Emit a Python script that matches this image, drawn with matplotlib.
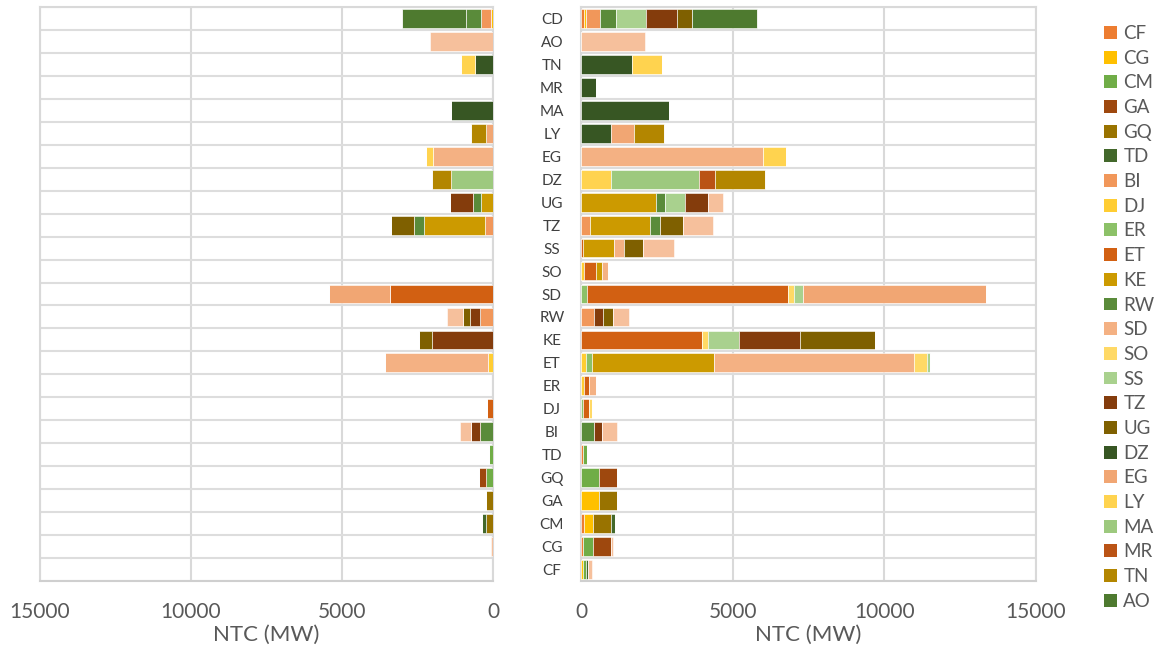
import numpy as np
import pandas as pd
import matplotlib
matplotlib.use("Agg")
import matplotlib.pyplot as plt
from matplotlib.patches import Patch

plt.rcParams['font.family'] = ['Lato', 'DejaVu Sans']

# countries, top to bottom
rows = ["CD", "AO", "TN", "MR", "MA", "LY", "EG", "DZ", "UG", "TZ", "SS", "SO", "SD",
        "RW", "KE", "ET", "ER", "DJ", "BI", "TD", "GQ", "GA", "CM", "CG", "CF"]

# partner series in stacking order (CD is drawn but left out of the legend)
partners = ["CF", "CG", "CM", "GA", "GQ", "TD", "BI", "DJ", "ER", "ET", "KE", "RW",
            "SD", "SO", "SS", "TZ", "UG", "DZ", "EG", "LY", "MA", "MR", "TN", "AO", "CD"]
colors = ["#ED7D31", "#FFC000", "#70AD47", "#9E480E", "#997300", "#43682B",
          "#F1975A", "#FFCD33", "#8CC168", "#D26012", "#CC9A00", "#5A8B3A",
          "#F4B183", "#FFD966", "#A9D18E", "#843C0C", "#7F6000", "#375623",
          "#F1A673", "#FFD34F", "#9DC97E", "#BA5315", "#B38600", "#4E7A2F",
          "#F6C09C"]
legend_count = 24

# NTC (MW) per partner, right-hand panel
out_CD = [("CF", 90), ("CG", 65), ("BI", 470), ("RW", 530), ("SS", 990), ("TZ", 1030), ("UG", 490), ("AO", 2135)]
out_AO = [("CD", 2095)]
out_TN = [("DZ", 1680), ("LY", 995)]
out_MR = [("DZ", 495)]
out_MA = [("DZ", 2905)]
out_LY = [("DZ", 985), ("EG", 760), ("TN", 995)]
out_EG = [("SD", 6000), ("LY", 745)]
out_DZ = [("LY", 985), ("MA", 2895), ("MR", 530), ("TN", 1665)]
out_UG = [("KE", 2467), ("RW", 308), ("SS", 645), ("TZ", 760), ("CD", 500)]
out_TZ = [("BI", 297), ("KE", 1975), ("RW", 320), ("UG", 765), ("CD", 1000)]
out_SS = [("ET", 65), ("KE", 1020), ("SD", 340), ("UG", 625), ("CD", 1010)]
out_SO = [("DJ", 100), ("ET", 395), ("KE", 195), ("SD", 200)]
out_SD = [("ER", 187), ("ET", 6625), ("SO", 200), ("SS", 315), ("EG", 6020)]
out_RW = [("BI", 430), ("TZ", 305), ("UG", 320), ("CD", 525)]
out_KE = [("ET", 3995), ("SO", 205), ("SS", 1000), ("TZ", 2005), ("UG", 2480)]
out_ET = [("DJ", 165), ("ER", 208), ("KE", 4000), ("SD", 6615), ("SO", 405), ("SS", 100)]
out_ER = [("DJ", 90), ("ET", 183), ("SD", 210)]
out_DJ = [("ER", 75), ("ET", 188), ("SO", 100)]
out_BI = [("RW", 428), ("TZ", 262), ("CD", 495)]
out_TD = [("CF", 75), ("CM", 133)]
out_GQ = [("CM", 603), ("GA", 592)]
out_GA = [("CG", 603), ("GQ", 592)]
out_CM = [("CF", 90), ("CG", 305), ("GQ", 605), ("TD", 120)]
out_CG = [("CF", 66), ("CM", 330), ("GA", 582), ("CD", 78)]
out_CF = [("CG", 66), ("CM", 89), ("TD", 85), ("CD", 122)]

# NTC (MW) per partner, left-hand panel
in_CD = [("CG", 55), ("BI", 340), ("RW", 500), ("AO", 2125)]
in_AO = [("CD", 2095)]
in_TN = [("DZ", 600), ("LY", 475)]
in_MA = [("DZ", 1385)]
in_LY = [("EG", 245), ("TN", 475)]
in_EG = [("SD", 2000), ("LY", 220)]
in_DZ = [("MA", 1385), ("TN", 620)]
in_UG = [("KE", 410), ("RW", 245), ("TZ", 775)]
in_TZ = [("BI", 275), ("KE", 2015), ("RW", 310), ("UG", 765)]
in_SD = [("ET", 3410), ("EG", 2015)]
in_RW = [("BI", 420), ("TZ", 330), ("UG", 245), ("CD", 530)]
in_KE = [("TZ", 2015), ("UG", 420)]
in_ET = [("DJ", 165), ("SD", 3420)]
in_DJ = [("ET", 185)]
in_BI = [("RW", 440), ("TZ", 275), ("CD", 390)]
in_TD = [("CM", 145)]
in_GQ = [("CM", 230), ("GA", 220)]
in_GA = [("GQ", 230)]
in_CM = [("GQ", 220), ("TD", 130)]
in_CG = [("CD", 65)]

out_rows = {"CD": out_CD, "AO": out_AO, "TN": out_TN, "MR": out_MR, "MA": out_MA, "LY": out_LY,
            "EG": out_EG, "DZ": out_DZ, "UG": out_UG, "TZ": out_TZ, "SS": out_SS, "SO": out_SO,
            "SD": out_SD, "RW": out_RW, "KE": out_KE, "ET": out_ET, "ER": out_ER, "DJ": out_DJ,
            "BI": out_BI, "TD": out_TD, "GQ": out_GQ, "GA": out_GA, "CM": out_CM, "CG": out_CG,
            "CF": out_CF}
in_rows = {"CD": in_CD, "AO": in_AO, "TN": in_TN, "MA": in_MA, "LY": in_LY, "EG": in_EG,
           "DZ": in_DZ, "UG": in_UG, "TZ": in_TZ, "SD": in_SD, "RW": in_RW, "KE": in_KE,
           "ET": in_ET, "DJ": in_DJ, "BI": in_BI, "TD": in_TD, "GQ": in_GQ, "GA": in_GA,
           "CM": in_CM, "CG": in_CG}


def to_table(entries):
    df = pd.DataFrame(0.0, index=rows, columns=partners)
    for country, segs in entries.items():
        for p, v in segs:
            df.loc[country, p] = v
    return df


def draw_panel(ax, df):
    y = np.arange(len(rows))
    left = np.zeros(len(rows))
    for p, c in zip(partners, colors):
        vals = df[p].values
        ax.barh(y, vals, left=left, height=0.82, color=c, edgecolor='white',
                linewidth=0.4, zorder=3)
        left = left + vals
    ax.set_ylim(len(rows) - 0.5, -0.5)
    ax.set_xticks([0, 5000, 10000, 15000])
    ax.set_yticks(np.arange(-0.5, len(rows)), minor=True)
    ax.grid(axis='x', color='#D9D9D9', linewidth=1.5, zorder=0)
    ax.grid(axis='y', which='minor', color='#DDDDDD', linewidth=1.5, zorder=0)
    ax.tick_params(axis='x', length=0, pad=15, labelsize=15, labelcolor='#595959')
    ax.tick_params(axis='y', which='both', length=0)
    for s in ax.spines.values():
        s.set_color('#D9D9D9')
        s.set_linewidth(1.5)
    ax.spines['bottom'].set_color('#CFCFCF')
    ax.set_xlabel("NTC (MW)", fontsize=16, color='#595959', labelpad=2)


fig = plt.figure(figsize=(11.61, 6.52), dpi=100)
W, H = 1161, 652
ax_l = fig.add_axes([40 / W, 1 - 581 / H, 453 / W, 574 / H])
ax_r = fig.add_axes([581 / W, 1 - 581 / H, 455 / W, 574 / H])

draw_panel(ax_l, to_table(in_rows))
ax_l.set_xlim(15000, 0)
ax_l.set_yticks(np.arange(len(rows)))
ax_l.set_yticklabels([])

draw_panel(ax_r, to_table(out_rows))
ax_r.set_xlim(0, 15000)
ax_r.set_yticks(np.arange(len(rows)))
ax_r.set_yticklabels(rows, fontsize=11, color='#404040', ha='center')
ax_r.tick_params(axis='y', pad=21)

handles = [Patch(facecolor=c, label=p) for p, c in zip(partners[:legend_count], colors[:legend_count])]
fig.legend(handles=handles, loc='upper left', bbox_to_anchor=(1104 / W, 1 - 25 / H),
           frameon=False, fontsize=13.5, handlelength=0.68, handleheight=0.68,
           handletextpad=0.35, labelspacing=0.41, borderpad=0, borderaxespad=0,
           labelcolor='#595959')

fig.savefig("out.png", dpi=100)
